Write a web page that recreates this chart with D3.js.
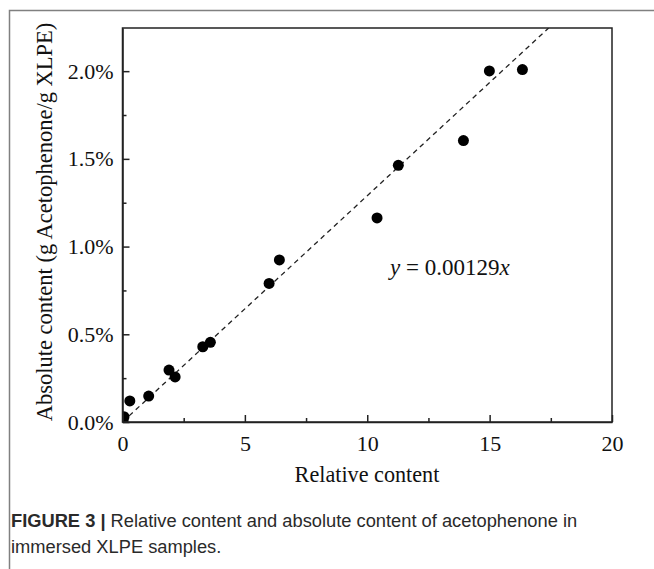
<!DOCTYPE html>
<html>
<head>
<meta charset="utf-8">
<script src="https://cdn.jsdelivr.net/npm/d3@7/dist/d3.min.js"></script>
<style>
  html, body { margin: 0; padding: 0; background: #fff; }
  svg { display: block; }
</style>
</head>
<body>
<svg id="chart" width="654" height="569"></svg>
<script>
// Relative content (x) vs absolute content of acetophenone (y, fraction)
const relativeContent = [0.02, 0.06, 0.3, 1.07, 1.9, 2.15, 3.28, 3.59, 5.99, 6.41, 10.4, 11.27, 13.93, 14.99, 16.34];
const absoluteContent = [0.0001, 0.0003, 0.0012, 0.00148, 0.00296, 0.00257, 0.00429, 0.00454, 0.0079, 0.00924, 0.01163, 0.01463, 0.01604, 0.02001, 0.02009];
const fitSlope = 0.00129;
const xTicks = [0, 5, 10, 15, 20];
const yTicks = [0, 0.005, 0.01, 0.015, 0.02];
const captionBold = "FIGURE 3 |";
const captionLine1 = " Relative content and absolute content of acetophenone in";
const captionLine2 = "immersed XLPE samples.";

const svg = d3.select("#chart");
const mLeft = 122.5, mRight = 612, mTop = 28, mBottom = 422;

const x = d3.scaleLinear().domain([0, 20]).range([mLeft, mRight]);
const y = d3.scaleLinear().domain([0, 0.02246]).range([mBottom, mTop]);

const serif = "'Liberation Serif', 'Times New Roman', serif";

// page frame
svg.append("path")
  .attr("d", `M9.5,569 L9.5,10.5 L654,10.5`)
  .attr("fill", "none").attr("stroke", "#808080").attr("stroke-width", 1.5);

// clip for marks
svg.append("clipPath").attr("id", "plotClip")
  .append("rect").attr("x", mLeft).attr("y", mTop).attr("width", mRight - mLeft).attr("height", mBottom - mTop);

const plot = svg.append("g").attr("clip-path", "url(#plotClip)");

// fitted line through origin
const xEnd = y.domain()[1] / fitSlope;
plot.append("line")
  .attr("x1", x(0)).attr("y1", y(0))
  .attr("x2", x(xEnd)).attr("y2", y(fitSlope * xEnd))
  .attr("stroke", "#222").attr("stroke-width", 1.3)
  .attr("stroke-dasharray", "5,4");

// data points
plot.selectAll("circle")
  .data(relativeContent.map((v, i) => [v, absoluteContent[i]]))
  .join("circle")
  .attr("cx", d => x(d[0]))
  .attr("cy", d => y(d[1]))
  .attr("r", 5.5)
  .attr("fill", "#000");

// axes with inward ticks
const xAxis = d3.axisBottom(x).tickValues(xTicks).tickSize(-7).tickSizeOuter(0).tickPadding(13).tickFormat(d3.format("d"));
const xMinor = d3.axisBottom(x).tickValues([2.5, 7.5, 12.5, 17.5]).tickSize(-4).tickSizeOuter(0).tickFormat("");
const yAxis = d3.axisLeft(y).tickValues(yTicks).tickSize(-7).tickSizeOuter(0).tickPadding(9).tickFormat(d3.format(".1%"));
const yMinor = d3.axisLeft(y).tickValues([0.0025, 0.0075, 0.0125, 0.0175]).tickSize(-4).tickSizeOuter(0).tickFormat("");

function styleAxis(g) {
  g.selectAll("path, line").attr("stroke", "#222").attr("stroke-width", 1.5);
  g.selectAll("text").attr("font-family", serif).attr("font-size", 22).attr("fill", "#111");
}

svg.append("g").attr("transform", `translate(0,${mBottom})`).call(xMinor).call(styleAxis).select(".domain").remove();
svg.append("g").attr("transform", `translate(${mLeft},0)`).call(yMinor).call(styleAxis).select(".domain").remove();
svg.append("g").attr("transform", `translate(0,${mBottom})`).call(xAxis).call(styleAxis);
svg.append("g").attr("transform", `translate(${mLeft},0)`).call(yAxis).call(styleAxis);

// box frame
svg.append("rect")
  .attr("x", mLeft).attr("y", mTop).attr("width", mRight - mLeft).attr("height", mBottom - mTop)
  .attr("fill", "none").attr("stroke", "#222").attr("stroke-width", 1.5);

// axis titles
svg.append("text")
  .attr("x", 367).attr("y", 482)
  .attr("text-anchor", "middle")
  .attr("font-family", serif).attr("font-size", 22.2).attr("fill", "#111")
  .text("Relative content");

svg.append("text")
  .attr("transform", `translate(52,222) rotate(-90)`)
  .attr("text-anchor", "middle")
  .attr("font-family", serif).attr("font-size", 22.5).attr("fill", "#111")
  .text("Absolute content (g Acetophenone/g XLPE)");

// fit equation
const eq = svg.append("text")
  .attr("x", 390).attr("y", 274.5)
  .attr("font-family", serif).attr("font-size", 23).attr("fill", "#111");
eq.append("tspan").attr("font-style", "italic").text("y");
eq.append("tspan").text(" = " + fitSlope.toString());
eq.append("tspan").attr("font-style", "italic").text("x");

// caption
const sans = "'Liberation Sans', Arial, sans-serif";
const cap = svg.append("text")
  .attr("x", 11).attr("y", 527)
  .attr("font-family", sans).attr("font-size", 18.3).attr("fill", "#2a2a2a");
cap.append("tspan").attr("font-weight", "bold").text(captionBold);
cap.append("tspan").text(captionLine1);
svg.append("text")
  .attr("x", 11).attr("y", 553)
  .attr("font-family", sans).attr("font-size", 18.3).attr("fill", "#2a2a2a")
  .text(captionLine2);
</script>
</body>
</html>
